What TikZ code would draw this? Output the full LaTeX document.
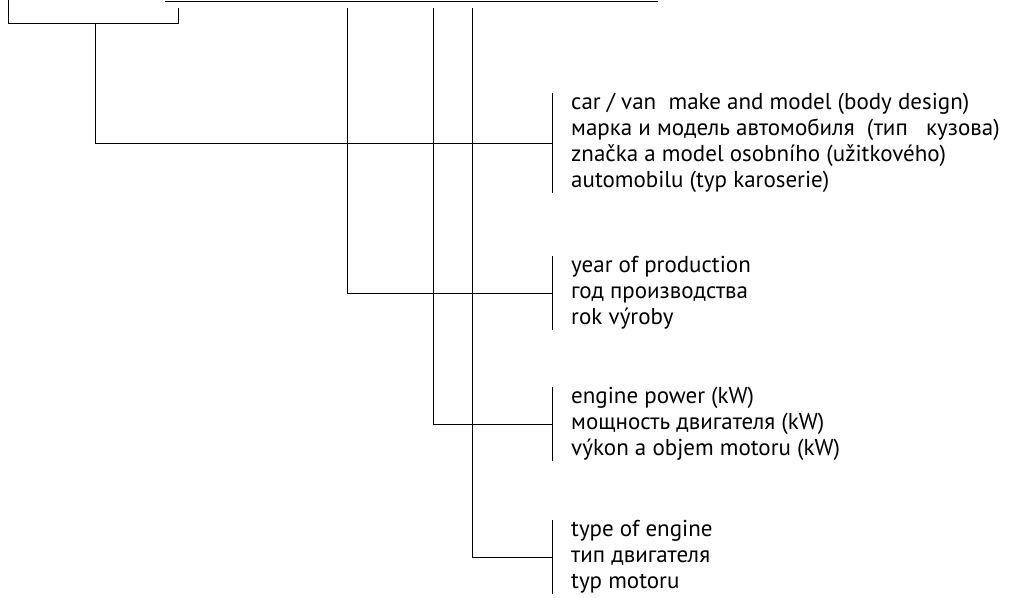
\documentclass[tikz,border=0pt]{standalone}
\usepackage{fontspec}
\setmainfont{PT Sans}
\usetikzlibrary{positioning}
\tikzset{
  legend/.style={anchor=west, align=left, inner xsep=0pt, inner ysep=0pt,
    font=\fontsize{23}{26}\selectfont},
  wire/.style={draw=black, line width=0.8pt}
}
\begin{document}
\begin{tikzpicture}[x=1pt, y=-1pt]
  \useasboundingbox (0,0) rectangle (1016,597);
  % Junctions
  \coordinate (boxtl) at (8,0);
  \coordinate (boxbl) at (8,23);
  \coordinate (boxbr) at (178,23);
  \coordinate (boxtr) at (178,8);
  \coordinate (topl) at (165,1);
  \coordinate (topr) at (658,1);
  \coordinate (tapa) at (95,23);
  \coordinate (tapb) at (347,8);
  \coordinate (tapc) at (433,8);
  \coordinate (tapd) at (472,8);

  % Nodes
  \node[legend] (make) at (571,143) {car / van\ \ make and model (body design)\\
    марка и модель автомобиля\ \ (тип\ \ \ кузова)\\
    značka a model osobního (užitkového)\\
    automobilu (typ karoserie)};
  \node[legend] (year) at (571,293) {year of production\\
    год производства\\
    rok výroby};
  \node[legend] (power) at (571,424) {engine power (kW)\\
    мощность двигателя (kW)\\
    výkon a objem motoru (kW)};
  \node[legend] (engine) at (571,557) {type of engine\\
    тип двигателя\\
    typ motoru};

  % Frame
  \draw[wire] (boxtl) -- (boxbl) -- (boxbr) -- (boxtr);
  \draw[wire] (topl) -- (topr);

  % Brackets
  \foreach \n in {make, year, power, engine}
    \draw[wire] ([xshift=-19pt]\n.north west) -- ([xshift=-19pt]\n.south west);

  % Leaders
  \draw[wire] (tapa) |- ([xshift=-19pt]make.west);
  \draw[wire] (tapb) |- ([xshift=-19pt]year.west);
  \draw[wire] (tapc) |- ([xshift=-19pt]power.west);
  \draw[wire] (tapd) |- ([xshift=-19pt]engine.west);
\end{tikzpicture}
\end{document}
